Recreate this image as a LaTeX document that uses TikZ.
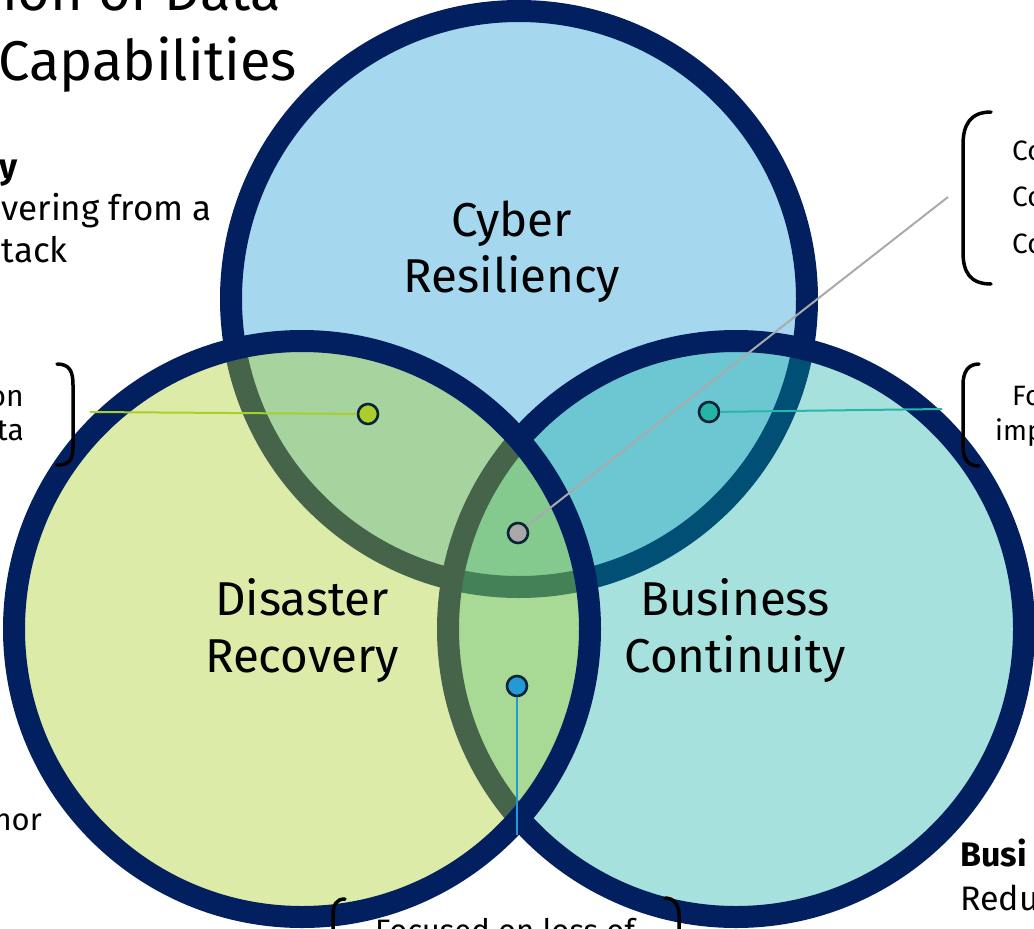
\documentclass[tikz,border=0pt]{standalone}
\usepackage{fontspec}
\setmainfont{Fira Sans}
\definecolor{navy}{RGB}{2,31,96}
\definecolor{cyberfill}{RGB}{165,215,238}
\definecolor{bcteal}{RGB}{3,171,160}
\definecolor{drlime}{RGB}{170,205,42}
\definecolor{dotline}{RGB}{10,35,55}
\definecolor{dotlime}{RGB}{172,206,42}
\definecolor{dotteal}{RGB}{38,180,166}
\definecolor{dotgray}{RGB}{168,168,168}
\definecolor{dotblue}{RGB}{35,153,216}
\definecolor{leadlime}{RGB}{168,208,42}
\definecolor{leadteal}{RGB}{40,182,170}
\definecolor{leadgray}{RGB}{170,170,170}
\definecolor{leadblue}{RGB}{35,153,216}
\begin{document}
\begin{tikzpicture}[x=1pt,y=-1pt,
  ring/.style={draw=navy, line width=22pt},
  dot/.style={circle, draw=dotline, line width=2.6pt, minimum size=20pt, inner sep=0pt},
  lead/.style={line width=2pt},
  brk/.style={draw=black, line width=3.5pt, line cap=round},
  lbl/.style={font=\fontsize{47.5}{56}\selectfont, anchor=base, inner sep=0pt},
  side/.style={font=\fontsize{28}{34}\selectfont, inner sep=0pt},
  bigside/.style={font=\fontsize{35}{40}\selectfont, inner sep=0pt},
  ttl/.style={font=\fontsize{56}{70}\selectfont, inner sep=0pt, anchor=base east},
]
\useasboundingbox (0,0) rectangle (1034,929);
\clip (0,0) rectangle (1034,929);
\fill[white] (0,0) rectangle (1034,929);
% circles
\fill[cyberfill] (519,299) circle[radius=288pt];
\draw[ring] (519,299) circle[radius=288pt];
\fill[bcteal, fill opacity=0.35] (736,629) circle[radius=288pt];
\draw[ring] (736,629) circle[radius=288pt];
\fill[drlime, fill opacity=0.4] (302,629) circle[radius=288pt];
\draw[ring] (302,629) circle[radius=288pt];
% labels
\node[lbl] (cr1) at (512,236) {Cyber};
\node[lbl] (cr2) at (512,292) {Resiliency};
\node[lbl] (dr1) at (302,615) {Disaster};
\node[lbl] (dr2) at (302,672) {Recovery};
\node[lbl] (bc1) at (735,615) {Business};
\node[lbl] (bc2) at (735,672) {Continuity};
% dots
\node[dot, fill=dotlime] (d1) at (368,414) {};
\node[dot, fill=dotteal] (d2) at (709,412) {};
\node[dot, fill=dotgray] (d3) at (518,533) {};
\node[dot, fill=dotblue] (d4) at (517,686) {};
\coordinate (e1) at (90,412);
\coordinate (e2) at (942,409);
\coordinate (e3) at (948,197);
\coordinate (e4) at (517,835);
\draw[lead, leadlime] (d1) -- (e1);
\draw[lead, leadteal] (d2) -- (e2);
\draw[lead, leadgray] (d3) -- (e3);
\draw[lead, leadblue] (d4) -- (e4);
% title
\node[ttl] (t1) at (281,10) {ion of Data};
\node[ttl] (t2) at (297,80) {Capabilities};
% left texts
\node[bigside, anchor=base east, font=\fontsize{35}{40}\selectfont\bfseries] (l1) at (18,178) {y};
\node[bigside, anchor=base east] (l2) at (212,220) {vering from a};
\node[bigside, anchor=base east] (l3) at (68,262) {tack};
\node[side, anchor=base east, font=\fontsize{30}{34}\selectfont] (l4) at (24,406) {on};
\node[side, anchor=base east, font=\fontsize{30}{34}\selectfont] (l5) at (24,440) {ta};
\node[bigside, anchor=base east, font=\fontsize{31}{34}\selectfont] (l6) at (42,830) {hor};
% right texts
\node[side, anchor=base west] (r1) at (1012,160) {Co};
\node[side, anchor=base west] (r2) at (1012,206) {Co};
\node[side, anchor=base west] (r3) at (1012,253) {Co};
\node[side, anchor=base west] (r4) at (1012,405) {Fo};
\node[side, anchor=base west] (r5) at (995,440) {imp};
\node[bigside, anchor=base west, font=\fontsize{34}{38}\selectfont\bfseries] (r6) at (960,866) {Busi};
\node[bigside, anchor=base west, font=\fontsize{34}{38}\selectfont] (r7) at (960,910) {Redu};
\node[side, anchor=base, font=\fontsize{31}{34}\selectfont] (b1) at (505,941) {Focused on loss of};
% brackets
\draw[brk] (57,364) .. controls (70,364) and (73,372) .. (73,385) -- (73,446) .. controls (73,459) and (70,465) .. (57,465);
\draw[brk] (991,112) .. controls (970,112) and (963,125) .. (963,145) -- (963,252) .. controls (963,272) and (970,284) .. (991,284);
\draw[brk] (979,364) .. controls (968,364) and (963,372) .. (963,385) -- (963,446) .. controls (963,459) and (968,466) .. (979,466);
\draw[brk] (345,899) .. controls (336,899) and (333,905) .. (333,915) -- (333,945);
\draw[brk] (665,898) .. controls (674,898) and (679,905) .. (679,915) -- (679,945);
\end{tikzpicture}
\end{document}
